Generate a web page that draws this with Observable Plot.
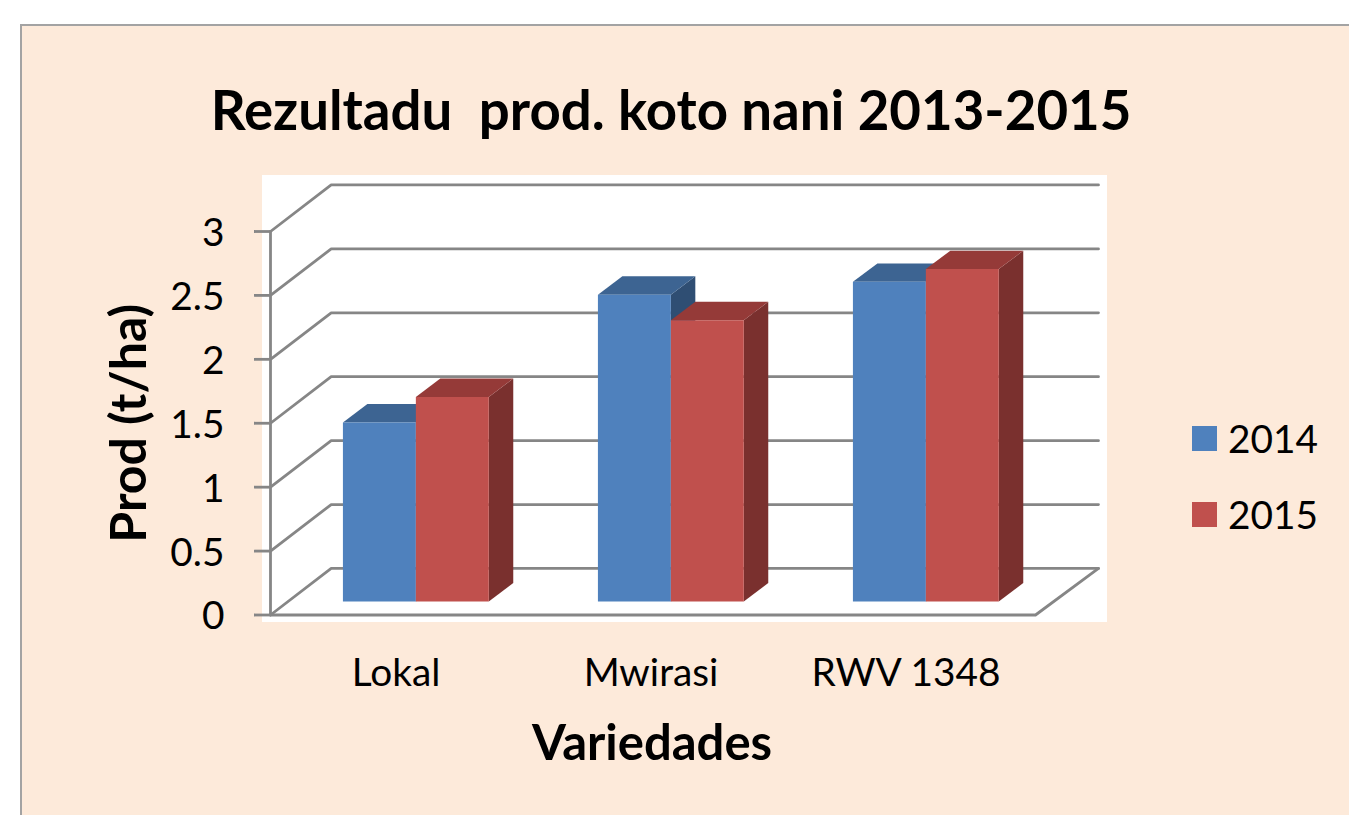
<!DOCTYPE html>
<html>
<head>
<meta charset="utf-8">
<script src="https://cdn.jsdelivr.net/npm/d3@7"></script>
<script src="https://cdn.jsdelivr.net/npm/@observablehq/plot@0.6"></script>
<style>
  html, body { margin: 0; padding: 0; background: #fff; width: 1349px; height: 815px; overflow: hidden; }
  body { position: relative; font-family: Lato, sans-serif; color: #000; }
  #panel { position: absolute; left: 20px; top: 24px; right: 0; bottom: 0; background: #FDEADA;
           border-left: 2px solid #a3a3a3; border-top: 2px solid #a3a3a3; }
  #wall { position: absolute; left: 262px; top: 175px; width: 845px; height: 447px; background: #fff; }
  #chart { position: absolute; left: 0; top: 0; }
  #chart svg { display: block; background: transparent; font-family: Lato, sans-serif; }
  #title { position: absolute; left: 0; top: 77px; width: 1342px; text-align: center; font-size: 54.6px; font-weight: 700; white-space: pre; line-height: 64px; }
  .lg-sw { position: absolute; left: 1192px; width: 25px; height: 25px; }
  .lg-tx { position: absolute; left: 1228px; font-size: 38.8px; line-height: 44px; }
</style>
</head>
<body>
<div id="panel"></div>
<div id="wall"></div>
<div id="chart"></div>
<div id="title">Rezultadu  prod. koto nani 2013-2015</div>
<div id="legend"></div>
<script>
const categories = ["Lokal", "Mwirasi", "RWV 1348"];
const series = ["2014", "2015"];
const values2014 = [1.4, 2.4, 2.5];
const values2015 = [1.6, 2.2, 2.6];
const yTicks = [0, 0.5, 1, 1.5, 2, 2.5, 3];
const frontColors = ["#4F81BD", "#C0504D"];
const topColors = ["#3D6492", "#953A38"];
const sideColors = ["#2F4E73", "#7A302E"];
const gridColor = "#868686";

// 3-D projection expressed in data units
const wallDx = 0.238, wallRightDx = 0.247, wallDy = 0.364;   // floor depth
const barShiftX = 0.07, barShiftY = 0.106; // bars sit partway into the floor
const barDepthX = 0.096, barDepthY = 0.144;
const barWidth = 0.286;

// wall gridlines, each with its diagonal on the side wall
const gridRows = yTicks.flatMap(t => [
  {id: t, x: 0, y: t},
  {id: t, x: wallDx, y: t + wallDy},
  {id: t, x: categories.length + wallRightDx, y: t + wallDy}
]);
const floorRows = [
  {x: 0, y: 0},
  {x: categories.length, y: 0},
  {x: categories.length + wallRightDx, y: wallDy}
];
const axisRows = [{x: 0, y: 0}, {x: 0, y: yTicks[yTicks.length - 1]}];

// faces of every bar, drawn back to front
const faceRows = [];
categories.forEach((c, i) => {
  [values2014[i], values2015[i]].forEach((v, s) => {
    const x0 = i + 0.5 + barShiftX - barWidth + s * barWidth;
    const x1 = x0 + barWidth;
    const y0 = barShiftY, y1 = barShiftY + v;
    const add = (name, color, pts) => pts.forEach(([x, y]) =>
      faceRows.push({id: `${c}-${s}-${name}`, color, x, y}));
    add("side", sideColors[s], [[x1, y0], [x1 + barDepthX, y0 + barDepthY], [x1 + barDepthX, y1 + barDepthY], [x1, y1]]);
    add("top", topColors[s], [[x0, y1], [x0 + barDepthX, y1 + barDepthY], [x1 + barDepthX, y1 + barDepthY], [x1, y1]]);
    add("front", frontColors[s], [[x0, y0], [x1, y0], [x1, y1], [x0, y1]]);
  });
});

const plot = Plot.plot({
  width: 1349,
  height: 815,
  marginLeft: 270,
  marginRight: 314,
  marginTop: 231,
  marginBottom: 200.5,
  style: {background: "transparent", fontFamily: "Lato, sans-serif"},
  x: {domain: [0, categories.length]},
  y: {domain: [0, 3]},
  marks: [
    Plot.line(gridRows, {x: "x", y: "y", z: "id", stroke: gridColor, strokeWidth: 2.8, strokeLinejoin: "round"}),
    Plot.line(floorRows, {x: "x", y: "y", stroke: gridColor, strokeWidth: 2.8}),
    Plot.line(axisRows, {x: "x", y: "y", stroke: gridColor, strokeWidth: 2.8}),
    Plot.line(faceRows, {x: "x", y: "y", z: "id", fill: "color", stroke: "none"}),
    Plot.axisY({
      ticks: yTicks, tickSize: 16, tickFormat: () => "",
      label: null, stroke: gridColor, strokeWidth: 2.8
    }),
    Plot.axisY({
      ticks: yTicks, tickSize: 0, tickPadding: 46, dy: 2, tickFormat: d => String(d),
      label: null, color: "#000", fontSize: 38.8
    }),
    Plot.axisX({
      ticks: categories.map((c, i) => i + 0.5), tickSize: 0, tickPadding: 43, dx: -2,
      tickFormat: d => categories[Math.floor(d)], label: null, fontSize: 38.8, color: "#000"
    }),
    Plot.text(["Prod (t/ha)"], {
      text: d => d, frameAnchor: "left", textAnchor: "middle", y: () => 1.5, dx: -141, rotate: -90,
      fontSize: 50, fontWeight: 700, fill: "#000"
    }),
    Plot.text(["Variedades"], {
      text: d => d, frameAnchor: "bottom", x: () => 1.5, dx: -1, dy: 145,
      fontSize: 49, fontWeight: 700, fill: "#000"
    })
  ]
});
document.getElementById("chart").appendChild(plot);

const lg = document.getElementById("legend");
series.forEach((s, i) => {
  const sw = document.createElement("div");
  sw.className = "lg-sw";
  sw.style.top = (426 + i * 76) + "px";
  sw.style.background = frontColors[i];
  lg.appendChild(sw);
  const tx = document.createElement("div");
  tx.className = "lg-tx";
  tx.style.top = (416 + i * 76) + "px";
  tx.textContent = s;
  lg.appendChild(tx);
});
</script>
</body>
</html>
